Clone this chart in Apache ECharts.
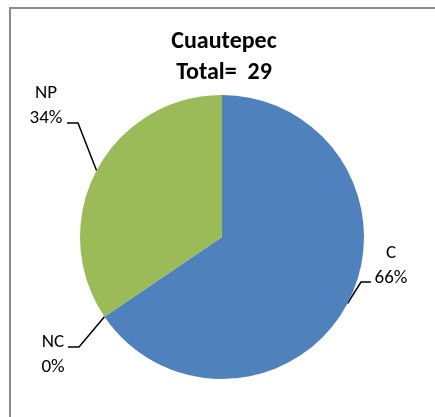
<!DOCTYPE html>
<html>
<head>
<meta charset="utf-8">
<script src="https://cdn.jsdelivr.net/npm/echarts@6/dist/echarts.min.js"></script>
<style>
html,body{margin:0;padding:0;background:#fff;}
#chart{width:435px;height:417px;}
</style>
</head>
<body>
<div id="chart"></div>
<script>
var titleLines = ['Cuautepec', 'Total=  29'];
var categories = ['C', 'NC', 'NP'];
var values = [19, 0, 10];
var colors = ['#4F81BD', '#C0504D', '#9BBB59'];

// label layout (text block centre + leader line bends), per category
var labelPos = {
  'C':  {x: 391, y: 266, pts: [[361, 282], [371, 282]]},
  'NC': {x: 53,  y: 355, pts: [[79, 347], [68, 347]]},
  'NP': {x: 46,  y: 106, pts: [[78, 123], [67, 123]]}
};

var FONT = 'Carlito, "Liberation Sans", Arial, sans-serif';
var chart = echarts.init(document.getElementById('chart'), null, {renderer: 'canvas'});
chart.setOption({
  animation: false,
  backgroundColor: '#fff',
  graphic: [{
    type: 'rect',
    shape: {x: 10, y: 8, width: 440, height: 420},
    style: {fill: 'none', stroke: '#8c8c8c', lineWidth: 2},
    silent: true
  }],
  title: {
    text: titleLines.join('\n'),
    left: 224,
    top: 26,
    padding: 0,
    textAlign: 'center',
    textStyle: {fontFamily: FONT, fontWeight: 'bold', fontSize: 24, lineHeight: 31, color: '#000'}
  },
  series: [{
    type: 'pie',
    center: [222, 237],
    radius: [0, 142],
    startAngle: 90,
    clockwise: true,
    data: categories.map(function (c, i) {
      return {name: c, value: values[i], itemStyle: {color: colors[i]}};
    }),
    itemStyle: {borderWidth: 0},
    label: {
      show: true,
      formatter: function (p) { return p.name + '\n' + Math.round(p.percent) + '%'; },
      fontFamily: FONT,
      fontSize: 19,
      lineHeight: 25,
      color: '#000',
      align: 'center',
      overflow: 'none',
      width: 80
    },
    labelLine: {show: true, lineStyle: {color: '#000', width: 1.5}},
    labelLayout: function (params) {
      var name = categories[params.dataIndex];
      var lp = labelPos[name];
      var start = params.labelLinePoints ? params.labelLinePoints[0] : lp.pts[0];
      return {
        x: lp.x,
        y: lp.y,
        align: 'center',
        verticalAlign: 'middle',
        labelLinePoints: [start, lp.pts[0], lp.pts[1]]
      };
    },
    emphasis: {disabled: true}
  }]
});
</script>
</body>
</html>
